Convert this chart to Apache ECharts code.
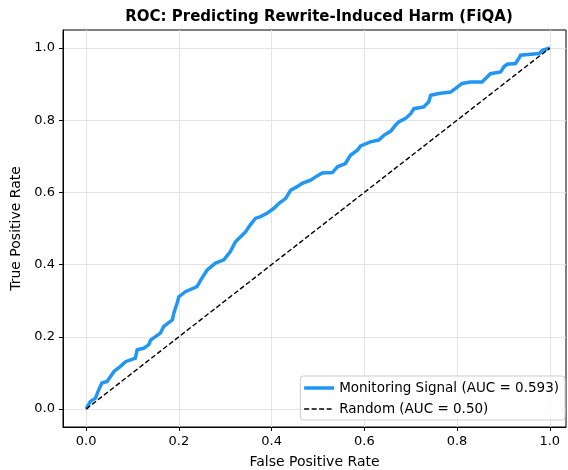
<!DOCTYPE html>
<html>
<head>
<meta charset="utf-8">
<script src="https://cdn.jsdelivr.net/npm/echarts@6/dist/echarts.min.js"></script>
<style>html,body{margin:0;padding:0;background:#fff}#c{width:568px;height:470px}</style>
</head>
<body>
<div id="c"></div>
<script>
const fpr = [0,.009,.02,.027,.034,.045,.06,.074,.085,.106,.11,.124,.135,.139,.16,.167,.186,.189,.196,.2,.214,.239,.247,.261,.279,.297,.311,.322,.337,.344,.354,.365,.376,.39,.405,.416,.43,.441,.455,.466,.484,.495,.509,.531,.542,.559,.57,.585,.592,.613,.631,.642,.657,.667,.674,.689,.7,.707,.728,.739,.743,.761,.786,.797,.811,.829,.854,.861,.872,.894,.901,.908,.926,.933,.937,.959,.977,.984,.995,1];
const tpr = [0,.021,.03,.053,.072,.076,.104,.118,.131,.141,.164,.168,.178,.191,.21,.228,.247,.265,.293,.311,.325,.339,.357,.385,.404,.413,.436,.463,.482,.491,.51,.528,.533,.542,.556,.57,.583,.606,.616,.625,.634,.643,.654,.655,.671,.68,.703,.717,.729,.74,.745,.758,.77,.786,.795,.805,.818,.832,.837,.851,.869,.874,.878,.888,.902,.906,.906,.915,.929,.934,.948,.955,.957,.971,.98,.983,.985,.994,.998,1];
const randomX = [0, 1];
const randomY = [0, 1];
const ticks = [0, 0.2, 0.4, 0.6, 0.8, 1.0];
const seriesNames = ['Monitoring Signal (AUC = 0.593)', 'Random (AUC = 0.50)'];
const titleText = 'ROC: Predicting Rewrite-Induced Harm (FiQA)';

const font = 'DejaVu Sans';
const gridColor = '#e3e3e3';
const blue = '#2196F3';
const chart = echarts.init(document.getElementById('c'), null, {renderer: 'canvas'});

const gridLines = [];
ticks.forEach(t => {
  gridLines.push({xAxis: t});
  gridLines.push({yAxis: t});
});

chart.setOption({
  animation: false,
  backgroundColor: '#fff',
  title: {
    text: titleText, left: 314, top: 5, textAlign: 'center',
    textStyle: {fontFamily: font, fontSize: 15, fontWeight: 'bold', color: '#000'}
  },
  grid: {left: 63, right: 2, top: 30, bottom: 43, show: true, borderColor: '#000', borderWidth: 1, backgroundColor: 'transparent', containLabel: false, outerBoundsMode: 'none'},
  legend: {
    orient: 'vertical', right: 3, bottom: 50,
    data: [
      {name: seriesNames[0], lineStyle: {width: 3.5, color: blue}},
      {name: seriesNames[1], lineStyle: {width: 1.4, color: '#000', type: [5, 2.5]}}
    ],
    itemWidth: 30, itemHeight: 10, itemGap: 7,
    itemStyle: {opacity: 0},
    padding: [5, 6, 4, 2],
    borderColor: '#cccccc', borderWidth: 1, borderRadius: 3,
    backgroundColor: 'rgba(255,255,255,0.85)',
    textStyle: {fontFamily: font, fontSize: 13.5, color: '#000'}
  },
  xAxis: {
    type: 'value', min: -0.05, max: 1.035,
    name: 'False Positive Rate', nameLocation: 'middle', nameGap: 28,
    nameTextStyle: {fontFamily: font, fontSize: 14, color: '#000'},
    axisLine: {show: true, onZero: false, lineStyle: {color: '#000'}},
    axisTick: {show: true, length: 4, inside: false, customValues: ticks, lineStyle: {color: '#000'}},
    axisLabel: {customValues: ticks, margin: 8, fontFamily: font, fontSize: 13, color: '#000', formatter: v => v.toFixed(1)},
    splitLine: {show: false}
  },
  yAxis: {
    type: 'value', min: -0.05, max: 1.05,
    name: 'True Positive Rate', nameLocation: 'middle', nameGap: 39,
    nameTextStyle: {fontFamily: font, fontSize: 14, color: '#000'},
    axisLine: {show: true, onZero: false, lineStyle: {color: '#000'}},
    axisTick: {show: true, length: 4, inside: false, customValues: ticks, lineStyle: {color: '#000'}},
    axisLabel: {customValues: ticks, margin: 8, fontFamily: font, fontSize: 13, color: '#000', formatter: v => v.toFixed(1)},
    splitLine: {show: false}
  },
  series: [
    {
      name: '__grid', type: 'line', data: [], z: 0, silent: true,
      markLine: {silent: true, symbol: 'none', label: {show: false}, z: 0,
        lineStyle: {color: gridColor, width: 1, type: 'solid'}, data: gridLines}
    },
    {
      name: seriesNames[0], type: 'line', z: 4,
      data: fpr.map((x, i) => [x, tpr[i]]),
      showSymbol: false, symbol: 'none',
      lineStyle: {color: blue, width: 3.5, join: 'miter'}, itemStyle: {color: blue}
    },
    {
      name: seriesNames[1], type: 'line', z: 5,
      data: randomX.map((x, i) => [x, randomY[i]]),
      showSymbol: false, symbol: 'none',
      lineStyle: {color: '#000', width: 1.4, type: [5, 2.5]}, itemStyle: {color: '#000'}
    }
  ]
});
</script>
</body>
</html>
